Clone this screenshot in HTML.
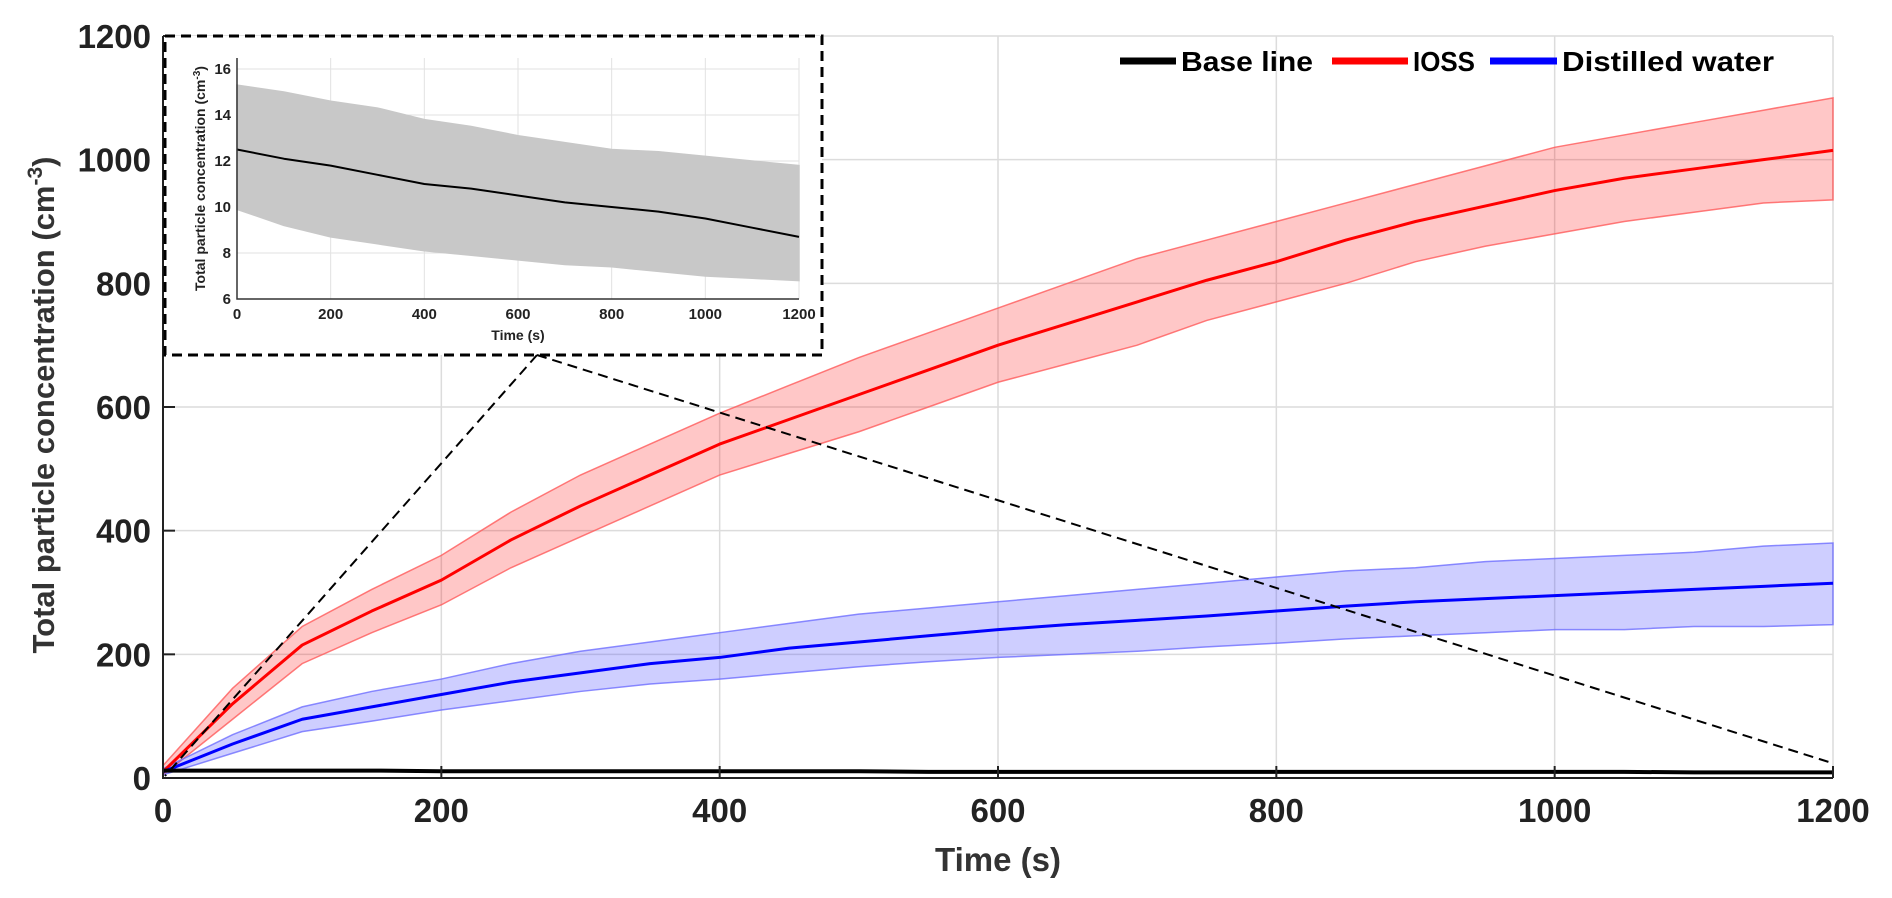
<!DOCTYPE html>
<html><head><meta charset="utf-8"><style>
html,body{margin:0;padding:0;background:#fff;}
svg{display:block;font-family:"Liberation Sans",sans-serif;}
</style></head><body>
<svg id="chart" width="1892" height="898" viewBox="0 0 1892 898"></svg>
<script>
// ---- main chart data ----
const times = [0,50,100,150,200,250,300,350,400,450,500,550,600,650,700,750,800,850,900,950,1000,1050,1100,1150,1200];
const iossMean = [10,120,215,270,320,385,440,490,540,580,620,660,700,735,770,805,835,870,900,925,950,970,985,1000,1015];
const iossUpper = [20,145,245,305,360,430,490,540,590,635,680,720,760,800,840,870,900,930,960,990,1020,1040,1060,1080,1100];
const iossLower = [5,95,185,235,280,340,390,440,490,525,560,600,640,670,700,740,770,800,835,860,880,900,915,930,935];
const waterMean = [10,55,95,115,135,155,170,185,195,210,220,230,240,248,255,262,270,278,285,290,295,300,305,310,315];
const waterUpper = [15,70,115,140,160,185,205,220,235,250,265,275,285,295,305,315,325,335,340,350,355,360,365,375,380];
const waterLower = [5,40,75,92,110,125,140,152,160,170,180,188,195,200,205,212,218,225,230,235,240,240,245,245,248];
const baseMean = [12,12,12,12,11,11,11,11,11,11,11,10,10,10,10,10,10,10,10,10,10,10,9,9,9];
const xTicks = [0,200,400,600,800,1000,1200];
const yTicks = [0,200,400,600,800,1000,1200];
// ---- inset data ----
const insetTimes = [0,100,200,300,400,500,600,700,800,900,1000,1100,1200];
const insetMean = [12.5,12.1,11.8,11.4,11.0,10.8,10.5,10.2,10.0,9.8,9.5,9.1,8.7];
const insetUpper = [15.3,15.0,14.6,14.3,13.8,13.5,13.1,12.8,12.5,12.4,12.2,12.0,11.8];
const insetLower = [9.9,9.2,8.7,8.4,8.1,7.9,7.7,7.5,7.4,7.2,7.0,6.9,6.8];
const insetXTicks = [0,200,400,600,800,1000,1200];
const insetYTicks = [6,8,10,12,14,16];

const NS="http://www.w3.org/2000/svg";
const svg=document.getElementById('chart');
function mk(tag,attrs,parent){const e=document.createElementNS(NS,tag);for(const k in attrs)e.setAttribute(k,attrs[k]);(parent||svg).appendChild(e);return e;}

// main axes
const X0=163,X1=1833,Y0=778,Y1=36;
const sx=v=>X0+(v/1200)*(X1-X0);
const sy=v=>Y0-(v/1200)*(Y0-Y1);

const grid=mk('g',{});


xTicks.forEach(t=>{const l=mk('line',{x1:sx(t),x2:sx(t),y1:Y1,y2:Y0,stroke:'#dcdcdc','stroke-width':1.5},grid);});
yTicks.forEach(t=>{const l=mk('line',{x1:X0,x2:X1,y1:sy(t),y2:sy(t),stroke:'#dcdcdc','stroke-width':1.5},grid);});

function band(up,lo,xs,fx,fy,fill,stroke,name,parent){
  let d='M'+xs.map((t,i)=>fx(t)+','+fy(up[i])).join('L');
  d+='L'+xs.slice().reverse().map((t,i)=>fx(t)+','+fy(lo[xs.length-1-i])).join('L')+'Z';
  const p=mk('path',{d:d,fill:fill,stroke:stroke,'stroke-width':1.5},parent);
  
  
}
function line(vals,xs,fx,fy,color,w,name,parent){
  const p=mk('polyline',{points:xs.map((t,i)=>fx(t)+','+fy(vals[i])).join(' '),fill:'none',stroke:color,'stroke-width':w,'stroke-linejoin':'round'},parent);
  
  
}
band(iossUpper,iossLower,times,sx,sy,'rgba(255,0,0,0.22)','rgba(255,90,90,0.8)','ioss-band');
band(waterUpper,waterLower,times,sx,sy,'rgba(60,60,255,0.25)','rgba(110,110,255,0.8)','water-band');
line(iossMean,times,sx,sy,'#ff0000',3,'ioss-line');
line(waterMean,times,sx,sy,'#0000ff',3,'water-line');
line(baseMean,times,sx,sy,'#000',4,'baseline-line');

// axes lines
const ax=mk('path',{d:`M${X0},${Y1}V${Y0}H${X1}`,fill:'none',stroke:'#222','stroke-width':2});


xTicks.forEach(t=>{
  const tk=mk('line',{x1:sx(t),x2:sx(t),y1:Y0,y2:Y0-12,stroke:'#222','stroke-width':2});
  
  
  const tx=mk('text',{x:sx(t),y:Y0+44,'text-anchor':'middle','font-size':33,'font-weight':'bold',fill:'#222'});
  tx.textContent=t;
  
  
});
yTicks.forEach(t=>{
  const tk=mk('line',{x1:X0,x2:X0+12,y1:sy(t),y2:sy(t),stroke:'#222','stroke-width':2});
  
  
  const tx=mk('text',{x:X0-12,y:sy(t)+12,'text-anchor':'end','font-size':33,'font-weight':'bold',fill:'#222'});
  tx.textContent=t;
  
  
});

// inset
const IX0=237,IX1=799,IY0=299,IYT=58;
const isx=v=>IX0+(v/1200)*(IX1-IX0);
const isy=v=>IY0-((v-6)/10)*(IY0-69);
const ig=mk('g',{});


mk('rect',{x:165,y:36,width:657,height:319,fill:'#fff'},ig);
insetXTicks.forEach(t=>{const l=mk('line',{x1:isx(t),x2:isx(t),y1:IYT,y2:IY0,stroke:'#e2e2e2','stroke-width':1},ig);});
insetYTicks.forEach(t=>{const l=mk('line',{x1:IX0,x2:IX1,y1:isy(t),y2:isy(t),stroke:'#e2e2e2','stroke-width':1},ig);});
band(insetUpper,insetLower,insetTimes,isx,isy,'#c8c8c8','#c8c8c8','inset-band',ig);
line(insetMean,insetTimes,isx,isy,'#000',2,'inset-mean-line',ig);
const iax=mk('path',{d:`M${IX0},${IYT}V${IY0}H${IX1}`,fill:'none',stroke:'#333','stroke-width':1.5},ig);


insetXTicks.forEach(t=>{
  const tx=mk('text',{x:isx(t),y:IY0+20,'text-anchor':'middle','font-size':15,'font-weight':'bold',fill:'#222'},ig);
  tx.textContent=t;
  
  
});
insetYTicks.forEach(t=>{
  const tx=mk('text',{x:IX0-6,y:isy(t)+5,'text-anchor':'end','font-size':15,'font-weight':'bold',fill:'#222'},ig);
  tx.textContent=t;
  
  
});
const ixt=mk('text',{x:(IX0+IX1)/2,y:IY0+41,'text-anchor':'middle','font-size':14,'font-weight':'bold',fill:'#222'},ig);
ixt.textContent='Time (s)';


const iyt=mk('text',{x:0,y:0,'text-anchor':'middle','font-size':14,'font-weight':'bold',fill:'#222',transform:`translate(205,${(IYT+IY0)/2}) rotate(-90)`},ig);
iyt.innerHTML='Total particle concentration (cm<tspan dy="-5" font-size="10">-3</tspan><tspan dy="5">)</tspan>';


const ibox=mk('rect',{x:165,y:36,width:657,height:319,fill:'none',stroke:'#000','stroke-width':3,'stroke-dasharray':'10,6'},ig);



// zoom dashed lines
[[165,776],[1832,763]].forEach(p=>{
  const l=mk('line',{x1:537,y1:355,x2:p[0],y2:p[1],stroke:'#000','stroke-width':2,'stroke-dasharray':'10,6'});
  
  
});

// titles
const xt=mk('text',{x:998,y:871,'text-anchor':'middle','font-size':33,'font-weight':'bold',fill:'#333'});
xt.textContent='Time (s)';


const yt=mk('text',{x:0,y:0,'text-anchor':'middle','font-size':31,'font-weight':'bold',fill:'#333',transform:'translate(54,405) rotate(-90)'});
yt.innerHTML='Total particle concentration (cm<tspan dy="-12" font-size="21">-3</tspan><tspan dy="12">)</tspan>';



// legend
const legend=mk('g',{});


[[1120,1176,'#000','Base line',1181,132,'legend-baseline'],[1332,1408,'#f00','IOSS',1413,62,'legend-ioss'],[1490,1557,'#00f','Distilled water',1562,212,'legend-distilled-water']].forEach(e=>{
  const g=mk('g',{},legend);
  
  
  mk('line',{x1:e[0],x2:e[1],y1:61,y2:61,stroke:e[2],'stroke-width':7},g);
  const t=mk('text',{x:e[4],y:71,'font-size':28,'font-weight':'bold',fill:'#000',textLength:e[5],lengthAdjust:'spacingAndGlyphs'},g);
  t.textContent=e[3];
});
</script>
</body></html>
